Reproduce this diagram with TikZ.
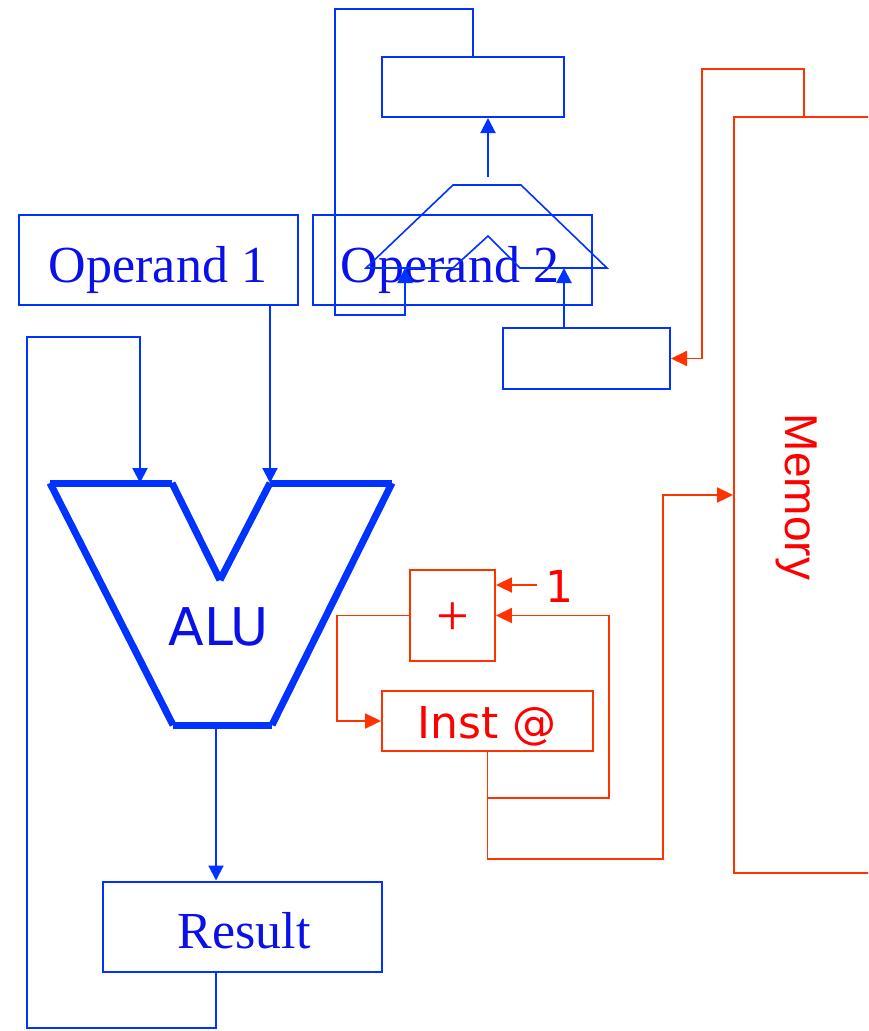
\documentclass[tikz,border=0pt]{standalone}
\usepackage{fontspec}
\usetikzlibrary{arrows.meta}
\newfontfamily\serf{Liberation Serif}
\newfontfamily\dvs{DejaVu Sans}
\newfontfamily\lsans{Liberation Sans}
\definecolor{bline}{HTML}{0033FF}
\definecolor{btext}{HTML}{0A10E8}
\definecolor{rline}{HTML}{FF3300}
\definecolor{rtext}{HTML}{FF0000}
\tikzset{
  bbox/.style={draw=bline, line width=2pt, inner sep=0pt, minimum width=#1},
  rbox/.style={draw=rline, line width=1.9pt, inner sep=0pt, minimum width=#1},
  bwire/.style={draw=bline, line width=2pt},
  rwire/.style={draw=rline, line width=1.9pt},
  barr/.style={bwire, -{Triangle[length=15pt,width=15pt]}},
  rarr/.style={rwire, -{Triangle[length=16pt,width=15pt]}},
  alu/.style={draw=bline, line width=7pt, line cap=butt},
  sertext/.style={text=btext, inner sep=0pt, font=\serf\fontsize{52}{60}\selectfont},
  redtext/.style={text=rtext, inner sep=0pt, font=\dvs\fontsize{44}{52}\selectfont},
}
\begin{document}
\begin{tikzpicture}[x=1pt,y=-1pt]
\useasboundingbox (0,0) rectangle (868,1031);
\clip (0,0) rectangle (868,1031);
% blue boxes
\node[bbox=279pt, minimum height=90pt] (op1) at (158.5,260) {};
\node[bbox=279pt, minimum height=90pt] (op2) at (452.5,260) {};
\node[bbox=182pt, minimum height=60pt] (tb) at (473,87) {};
\node[bbox=167pt, minimum height=61pt] (sb) at (586.5,358.5) {};
\node[bbox=279pt, minimum height=90pt] (res) at (242.5,926.5) {};
\node[sertext, anchor=base] (op1t) at (158,282) {Operand 1};
\node[sertext, anchor=base] (op2t) at (450,282) {Operand 2};
\node[sertext, anchor=base] (rest) at (244,948) {Result};
% red boxes
\node[rbox=85pt, minimum height=91pt] (pl) at (452.5,615.5) {};
\node[rbox=211pt, minimum height=60pt] (inst) at (487.5,721) {};
\node[rbox=266pt, minimum height=756pt] (mem) at (867,495) {};
\node[text=rtext, inner sep=0pt, font=\serf\fontsize{58}{60}\selectfont] (plt) at (453,619) {+};
\node[redtext, anchor=base] (instt) at (487.5,738) {Inst @};
\node[redtext, anchor=base] (one) at (559,602) {1};
\node[text=rtext, inner sep=0pt, font=\lsans\fontsize{46}{50}\selectfont, rotate=-90] (memt) at (797,497) {Memory};
% mux
\coordinate (mxL) at (405,268);
\coordinate (mxR) at (564,268);
\coordinate (mxO) at (488,177);
\draw[bwire, line width=1.6pt] (366,268) -- (453,185) -- (521,185) -- (607,268) -- (520,268) -- (488,236) -- (453,268) -- cycle;
% ALU
\draw[alu] (50,483) -- (172,483);
\draw[alu] (172,483) -- (220,580);
\draw[alu] (220,580) -- (270,483);
\draw[alu] (270,483) -- (392,483);
\draw[alu] (392,483) -- (272,725);
\draw[alu] (272,725) -- (173,725);
\draw[alu] (173,725) -- (50,483);
\node[text=btext, inner sep=0pt, font=\dvs\fontsize{52}{60}\selectfont, anchor=base] (alut) at (219,645) {ALU};
\coordinate (ain1) at (140,483);
\coordinate (ain2) at (270,483);
\coordinate (aluout) at (216,725);
% blue connectors
\draw[barr] (mxO) -- (tb.south -| mxO);
\draw[barr] (tb.north) |- (335,9) |- (405,315) -- (mxL);
\draw[barr] (sb.north -| mxR) -- (mxR);
\draw[barr] (op1.south -| ain2) -- (ain2);
\draw[barr] (aluout) -- (res.north -| aluout);
\draw[barr] (res.south -| aluout) |- (27,1028) |- (140,337) -- (ain1);
% red connectors
\coordinate (onep) at (537,585);
\draw[rarr] (onep) -- (onep -| pl.east);
\draw[rarr] (pl.west) -| (337,721) -- (inst.west);
\draw[rarr] (inst.south) |- (609,798) |- (pl.east);
\draw[rarr] (inst.south) |- (663,859) |- (mem.west);
\coordinate (memo) at (804,117);
\draw[rarr] (memo) |- (702,69) |- (sb.east);
\end{tikzpicture}
\end{document}
